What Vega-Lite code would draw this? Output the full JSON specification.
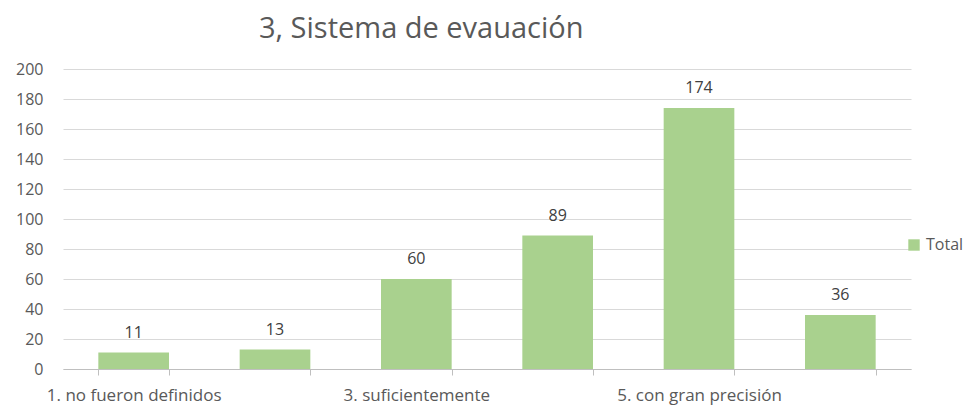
{
  "$schema": "https://vega.github.io/schema/vega-lite/v6.json",
  "width": 848,
  "height": 300,
  "autosize": "none",
  "padding": {"left": 63, "top": 69, "right": 60, "bottom": 36},
  "background": "white",
  "title": {
    "text": "3, Sistema de evauación",
    "anchor": "start",
    "frame": "group",
    "dx": 196,
    "offset": 17,
    "font": "Open Sans",
    "fontSize": 29,
    "fontWeight": "normal",
    "color": "#595959"
  },
  "data": {
    "values": [
      {"categoria": "1. no fueron definidos", "serie": "Total", "valor": 11},
      {"categoria": "2. vagamente", "serie": "Total", "valor": 13},
      {"categoria": "3. suficientemente", "serie": "Total", "valor": 60},
      {"categoria": "4. claramente", "serie": "Total", "valor": 89},
      {"categoria": "5. con gran precisión", "serie": "Total", "valor": 174},
      {"categoria": "6. no sabe", "serie": "Total", "valor": 36}
    ]
  },
  "config": {
    "view": {"stroke": null},
    "font": "Open Sans"
  },
  "encoding": {
    "x": {
      "field": "categoria",
      "type": "nominal",
      "sort": null,
      "scale": {"paddingInner": 0.5, "paddingOuter": 0.25},
      "axis": {
        "title": null,
        "labelAngle": 0,
        "labelExpr": "test(/^[246]\\./, datum.label) ? '' : datum.label",
        "labelFont": "Open Sans",
        "labelFontSize": 17,
        "labelColor": "#595959",
        "labelPadding": 12,
        "labelOverlap": false,
        "labelLimit": 300,
        "domainColor": "#bfbfbf",
        "tickColor": "#bfbfbf",
        "tickSize": 6,
        "tickBand": "extent",
        "grid": false
      }
    },
    "y": {
      "field": "valor",
      "type": "quantitative",
      "scale": {"domain": [0, 200]},
      "axis": {
        "title": null,
        "values": [0, 20, 40, 60, 80, 100, 120, 140, 160, 180, 200],
        "domain": false,
        "ticks": false,
        "labelPadding": 20,
        "labelFont": "Open Sans",
        "labelFontSize": 16,
        "labelColor": "#595959",
        "gridColor": "#d9d9d9",
        "gridWidth": 1
      }
    }
  },
  "layer": [
    {
      "mark": {"type": "bar", "color": "#a9d18e"},
      "encoding": {
        "color": {
          "field": "serie",
          "type": "nominal",
          "scale": {"range": ["#a9d18e"]},
          "legend": {
            "title": null,
            "orient": "none",
            "legendX": 843,
            "legendY": 168,
            "symbolType": "square",
            "symbolSize": 130,
            "symbolStrokeWidth": 0,
            "labelFont": "Open Sans",
            "labelFontSize": 16,
            "labelColor": "#595959",
            "labelOffset": 4
          }
        }
      }
    },
    {
      "mark": {"type": "text", "dy": -20, "font": "Open Sans", "fontSize": 16, "color": "#404040"},
      "encoding": {"text": {"field": "valor", "type": "quantitative"}}
    }
  ]
}
